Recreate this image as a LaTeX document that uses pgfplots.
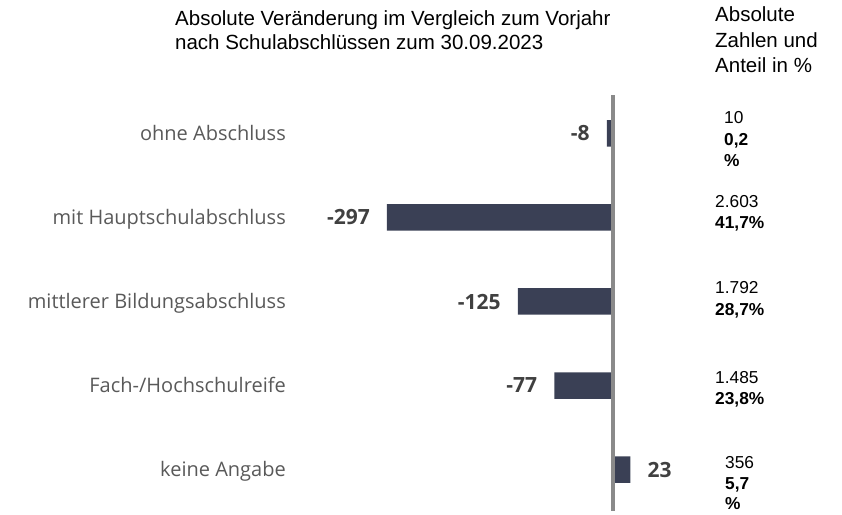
\documentclass[border=0pt]{standalone}
\usepackage{fontspec}
\setmainfont{Liberation Sans}
\newfontfamily\osans{Open Sans}
\usepackage{pgfplots}
\pgfplotsset{compat=1.18}

\definecolor{barcol}{HTML}{3A4055}
\definecolor{labgray}{HTML}{595959}
\definecolor{valgray}{HTML}{404040}
\definecolor{zerogray}{HTML}{8A8A8A}

\newcommand\tfont{\fontsize{20.5}{24}\selectfont}
\newcommand\nfont{\fontsize{17.3}{21}\selectfont}

\begin{document}
\begin{tikzpicture}
\path[use as bounding box] (0,0) rectangle (842pt,514pt);

\begin{axis}[
  scale only axis, width=258.7pt, height=420pt,
  at={(384.7pt,2.5pt)}, anchor=south west,
  xmin=-300, xmax=40, ymin=-0.5, ymax=4.5,
  axis line style={draw=none},
  xtick=\empty,
  ytick={0,1,2,3,4},
  yticklabels={keine Angabe, Fach-/Hochschulreife, mittlerer Bildungsabschluss, mit Hauptschulabschluss, ohne Abschluss},
  major tick length=0pt,
  yticklabel style={font=\osans\fontsize{20}{24}\selectfont, text=labgray,
    anchor=base east, inner sep=0pt, xshift=-98.7pt, yshift=-7pt},
  clip=false,
]
% change vs previous year
\addplot[xbar, bar width=26.5pt, fill=barcol, draw=none, point meta=x,
  nodes near coords={\pgfmathprintnumber[assume math mode=true]{\pgfplotspointmeta}},
  nodes near coords style={font=\osans\bfseries\fontsize{21}{24}\selectfont,
    text=valgray, inner xsep=17pt, inner ysep=0pt}]
  coordinates {(-8,4) (-297,3) (-125,2) (-77,1) (23,0)};

\draw[zerogray, line width=3.3pt] (axis cs:0,-0.494) -- (axis cs:0,4.458);
\end{axis}

% titles
\node[anchor=base west, inner sep=0pt, font=\tfont] at (175pt,488.3pt) {Absolute Veränderung im Vergleich zum Vorjahr};
\node[anchor=base west, inner sep=0pt, font=\tfont] at (175pt,464pt) {nach Schulabschlüssen zum 30.09.2023};
\node[anchor=base west, inner sep=0pt, font=\tfont] at (715pt,492.3pt) {Absolute};
\node[anchor=base west, inner sep=0pt, font=\tfont] at (715pt,466pt) {Zahlen und};
\node[anchor=base west, inner sep=0pt, font=\tfont] at (715pt,441pt) {Anteil in \%};

% absolute numbers and shares
\node[anchor=base west, inner sep=0pt, font=\nfont] at (724pt,390pt) {10};
\node[anchor=base west, inner sep=0pt, font=\nfont\bfseries] at (724pt,368pt) {0,2};
\node[anchor=base west, inner sep=0pt, font=\nfont\bfseries] at (724pt,347pt) {\%};

\node[anchor=base west, inner sep=0pt, font=\nfont] at (715pt,306pt) {2.603};
\node[anchor=base west, inner sep=0pt, font=\nfont\bfseries] at (715pt,285pt) {41,7\%};

\node[anchor=base west, inner sep=0pt, font=\nfont] at (715pt,220pt) {1.792};
\node[anchor=base west, inner sep=0pt, font=\nfont\bfseries] at (715pt,198pt) {28,7\%};

\node[anchor=base west, inner sep=0pt, font=\nfont] at (715pt,131pt) {1.485};
\node[anchor=base west, inner sep=0pt, font=\nfont\bfseries] at (715pt,110pt) {23,8\%};

\node[anchor=base west, inner sep=0pt, font=\nfont] at (725pt,46pt) {356};
\node[anchor=base west, inner sep=0pt, font=\nfont\bfseries] at (725pt,25pt) {5,7};
\node[anchor=base west, inner sep=0pt, font=\nfont\bfseries] at (725pt,4.5pt) {\%};
\end{tikzpicture}
\end{document}
